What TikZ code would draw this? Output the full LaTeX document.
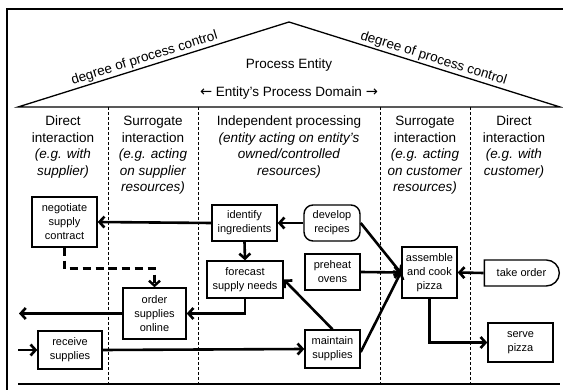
\documentclass[tikz,border=0pt]{standalone}
\usepackage{fontspec}
\setmainfont{Liberation Sans}
\newfontfamily\arrowfont{DejaVu Sans}
\usetikzlibrary{arrows.meta,shapes.misc}

\begin{document}
\begin{tikzpicture}[x=1pt,y=-1pt,
  big/.style={font=\fontsize{13.5}{16.5}\selectfont},
  head/.style={big,align=center,inner sep=0pt,anchor=north},
  box/.style={draw,line width=1.4pt,inner sep=1pt,align=center,
    font=\fontsize{11}{14}\selectfont},
  lane/.style={line width=1pt,dash pattern=on 3pt off 2pt},
  flow/.style={line width=2.6pt,-{Straight Barb[length=5pt,width=11pt]}},
  weak/.style={line width=2.4pt,dash pattern=on 8pt off 5pt,
    -{Straight Barb[length=5pt,width=11pt]}},
]
\useasboundingbox (0,0) rectangle (563,390);

% outer frame
\draw[line width=1.8pt] (7,390) -- (7,9) -- (563,9);
\draw[line width=1.4pt] (18,384) -- (560,384);

% roof of the process entity
\draw[line width=1.3pt] (18,107)
  -- node[sloped,above,pos=0.476,big,inner sep=1.5pt]{degree of process control} (289,22)
  -- node[sloped,above,pos=0.524,big,inner sep=1.5pt]{degree of process control} (560,107)
  -- cycle;
\node[big] (entity) at (289,65) {Process Entity};
\node[big] (domain) at (289,93) {{\arrowfont\fontsize{14.5}{16}\selectfont ←} Entity’s Process Domain {\arrowfont\fontsize{14.5}{16}\selectfont →}};

% swim lane separators
\foreach \x in {108,198,380,470}
  \draw[lane] (\x,107) -- (\x,384);

% lane headings
\node[head] (h1) at (63,116) {Direct\\interaction\\\textit{(e.g. with}\\\textit{supplier)}};
\node[head] (h2) at (153,116) {Surrogate\\interaction\\\textit{(e.g. acting}\\\textit{on supplier}\\\textit{resources)}};
\node[head] (h3) at (289,116) {Independent processing\\\textit{(entity acting on entity’s}\\\textit{owned/controlled}\\\textit{resources)}};
\node[head] (h4) at (425,116) {Surrogate\\interaction\\\textit{(e.g. acting}\\\textit{on customer}\\\textit{resources)}};
\node[head] (h5) at (514,116) {Direct\\interaction\\\textit{(e.g. with}\\\textit{customer)}};

% activities
\node[box,minimum width=65pt,minimum height=50pt] (negotiate) at (64.5,222) {negotiate\\supply\\contract};
\node[box,minimum width=65pt,minimum height=36pt] (identify) at (244.5,223) {identify\\ingredients};
\node[box,minimum width=76pt,minimum height=37pt] (forecast) at (245,279.5) {forecast\\supply needs};
\node[box,minimum width=63pt,minimum height=51pt] (order) at (154.5,313.5) {order\\supplies\\online};
\node[box,minimum width=64pt,minimum height=38pt] (receive) at (70,350) {receive\\supplies};
\node[box,rounded corners=9pt,minimum width=56pt,minimum height=36pt] (develop) at (332,223) {develop\\recipes};
\node[box,minimum width=55pt,minimum height=36pt] (preheat) at (332.5,272) {preheat\\ovens};
\node[box,minimum width=55pt,minimum height=38pt] (maintain) at (332.5,349) {maintain\\supplies};
\node[box,minimum width=55pt,minimum height=51pt] (assemble) at (429.5,272.5) {assemble\\and cook\\pizza};
\node[box,shape=rounded rectangle,rounded rectangle left arc=none,
  minimum width=77pt,minimum height=26pt] (take) at (521.5,273) {take order};
\node[box,minimum width=65pt,minimum height=39pt] (serve) at (520.5,342.5) {serve\\pizza};

% loose ends at the left border
\coordinate (out) at (19,313.5);
\coordinate (in) at (18,350);

% flows
\draw[flow] (develop.west) -- (identify.east);
\draw[flow] (identify.west) -- (negotiate.east);
\draw[flow] (identify.south) -- (forecast.north);
\draw[flow] (forecast.south) |- (order.east);
\draw[flow] (order.west) -- (out);
\draw[flow] (in) -- (receive.west);
\draw[flow] (receive.east) -- (maintain.west);
\draw[flow] (maintain.north) -- (forecast.east);
\draw[flow] (develop.east) -- ([yshift=-1pt]assemble.west);
\draw[flow] (preheat.east) -- (assemble.west);
\draw[flow] ([yshift=-3pt]maintain.east) -- ([yshift=1pt]assemble.west);
\draw[flow] (take.west) -- (assemble.east);
\draw[flow] (assemble.south) |- (serve.west);
\draw[weak] (negotiate.south) -- ++(0,21) -| (order.north);
\end{tikzpicture}
\end{document}
